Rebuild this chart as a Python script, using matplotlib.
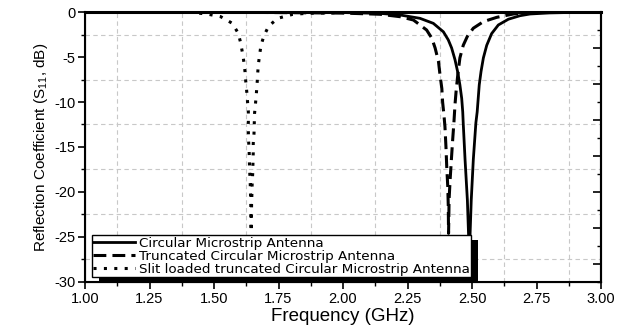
import matplotlib
matplotlib.use('Agg')
import matplotlib.pyplot as plt
from matplotlib.patches import Rectangle
from matplotlib.transforms import IdentityTransform
from matplotlib.ticker import MultipleLocator, FixedLocator

# Circular Microstrip Antenna (solid)
circ_freq = [1.00, 1.60, 2.00, 2.143, 2.221, 2.298, 2.350, 2.389, 2.408, 2.421,
             2.434, 2.444, 2.453, 2.460, 2.464, 2.466, 2.473, 2.482, 2.487, 2.490,
             2.492, 2.497, 2.505, 2.515, 2.520, 2.524, 2.528, 2.535, 2.544, 2.557,
             2.576, 2.602, 2.641, 2.686, 2.725, 2.80, 2.90, 3.00]
circ_s11 = [-0.01, -0.02, -0.06, -0.15, -0.33, -0.70, -1.26, -2.2, -3.1, -4.0,
            -5.3, -6.6, -8.1, -9.6, -11.1, -12.4, -16.4, -20.9, -25.1, -26.5,
            -25.1, -20.9, -16.4, -12.3, -11.1, -9.6, -8.1, -6.6, -5.1, -3.7,
            -2.4, -1.44, -0.80, -0.41, -0.22, -0.10, -0.04, -0.02]

# Truncated Circular Microstrip Antenna (dashed)
trunc_freq = [1.00, 1.60, 2.00, 2.143, 2.221, 2.273, 2.324, 2.344, 2.357, 2.370,
              2.376, 2.383, 2.386, 2.391, 2.395, 2.399, 2.402, 2.406, 2.408, 2.409,
              2.410, 2.411, 2.415, 2.420, 2.425, 2.430, 2.434, 2.438, 2.444, 2.453,
              2.466, 2.482, 2.505, 2.544, 2.596, 2.660, 2.712, 2.85, 3.00]
trunc_s11 = [-0.01, -0.03, -0.12, -0.25, -0.52, -0.89, -2.0, -2.9, -4.0, -5.5,
             -7.0, -8.5, -10.0, -11.4, -12.7, -15.0, -17.2, -19.4, -21.6, -24.6,
             -23.1, -20.9, -18.7, -16.4, -14.2, -12.2, -10.3, -8.9, -7.2, -5.1,
             -3.7, -2.7, -1.8, -1.07, -0.59, -0.22, -0.06, -0.02, -0.01]

# Slit loaded truncated Circular Microstrip Antenna (dotted)
slit_freq = [1.00, 1.30, 1.413, 1.472, 1.526, 1.571, 1.594, 1.603, 1.610, 1.616,
             1.620, 1.623, 1.627, 1.630, 1.633, 1.633, 1.633, 1.634, 1.636, 1.637,
             1.638, 1.640, 1.641, 1.642, 1.643, 1.643, 1.644, 1.645, 1.646, 1.647,
             1.648, 1.650, 1.651, 1.652, 1.652, 1.655, 1.656, 1.657, 1.661, 1.664,
             1.667, 1.669, 1.672, 1.677, 1.682, 1.694, 1.712, 1.747, 1.805, 1.859,
             2.00, 2.50, 3.00]
slit_s11 = [-0.01, -0.02, -0.05, -0.22, -0.52, -1.26, -2.37, -3.4, -4.5, -5.6,
            -6.6, -7.7, -8.9, -10.0, -11.0, -12.2, -13.2, -14.3, -15.3, -16.4,
            -17.6, -18.7, -19.8, -20.9, -22.0, -23.1, -24.4, -22.1, -21.0, -20.0,
            -18.9, -17.9, -16.7, -15.6, -14.6, -13.5, -12.4, -11.3, -10.1, -9.1,
            -8.0, -6.9, -5.8, -4.7, -3.7, -2.6, -1.56, -0.70, -0.26, -0.15,
            -0.06, -0.02, -0.01]

labels = ['Circular Microstrip Antenna',
          'Truncated Circular Microstrip Antenna',
          'Slit loaded truncated Circular Microstrip Antenna']
x_ticks = [1.00, 1.25, 1.50, 1.75, 2.00, 2.25, 2.50, 2.75, 3.00]
y_ticks = [0, -5, -10, -15, -20, -25, -30]


def plot():
    plt.rcParams['font.family'] = ['Liberation Sans', 'DejaVu Sans']
    plt.rcParams['mathtext.default'] = 'regular'

    fig = plt.figure(figsize=(6.17, 3.29), dpi=100)
    ax = fig.add_axes([0.1378, 0.1429, 0.8363, 0.8206])

    ax.plot(circ_freq, circ_s11, color='black', lw=2.0, label=labels[0])
    ax.plot(trunc_freq, trunc_s11, color='black', lw=2.2,
            linestyle=(0, (4.2, 2.0)), label=labels[1])
    ax.plot(slit_freq, slit_s11, color='black', lw=2.2,
            linestyle=(0, (1, 2.4)), label=labels[2])

    ax.set_xlim(1.0, 3.0)
    ax.set_ylim(-30, 0)
    ax.set_xticks(x_ticks)
    ax.set_xticklabels(['%.2f' % v for v in x_ticks])
    ax.set_yticks(y_ticks)
    ax.set_yticklabels([str(v) for v in y_ticks])
    ax.xaxis.set_minor_locator(FixedLocator([1.125 + 0.25 * i for i in range(8)]))
    ax.yaxis.set_minor_locator(FixedLocator([-2.5 - 5 * i for i in range(6)]))
    ax.grid(which='minor', color='#c8c8c8', linestyle=(0, (4, 3)), lw=0.8)
    ax.grid(which='major', visible=False)

    ax.tick_params(which='major', direction='out', length=5, width=1.2,
                   labelsize=10.5, pad=2, right=False, top=False)
    ax.tick_params(which='minor', direction='out', length=3, width=1.0,
                   right=False, top=False)
    for side in ['left', 'right', 'bottom']:
        ax.spines[side].set_linewidth(1.5)
    ax.spines['top'].set_linewidth(2.2)

    # right-hand ticks, pointing in
    ax2 = ax.twinx()
    ax2.set_ylim(-30, 0)
    ax2.yaxis.set_major_locator(MultipleLocator(4))
    ax2.yaxis.set_minor_locator(MultipleLocator(2))
    ax2.tick_params(which='major', direction='in', length=6, width=1.2, labelright=False)
    ax2.tick_params(which='minor', direction='in', length=3, width=1.0)
    ax2.spines['right'].set_linewidth(1.5)

    ax.set_xlabel('Frequency (GHz)', fontsize=13.5, labelpad=2)
    ax.set_ylabel('Reflection Coefficient (S$_{11}$, dB)', fontsize=11, labelpad=3)

    leg = ax.legend(loc='lower left', bbox_to_anchor=(0.0136, 0.0185),
                    borderaxespad=0, frameon=True, fancybox=False,
                    prop={'family': 'DejaVu Sans', 'size': 9.7},
                    handlelength=3.1, handletextpad=0.25, labelspacing=0.0,
                    borderpad=0.1)
    leg.get_frame().set_edgecolor('black')
    leg.get_frame().set_linewidth(1.0)
    leg.get_frame().set_alpha(1)
    leg.set_zorder(6)

    # black drop shadow behind the legend
    fig.canvas.draw()
    bb = leg.get_window_extent()
    shadow = Rectangle((bb.x0 + 7, bb.y0 - 5), bb.width, bb.height,
                       transform=IdentityTransform(), facecolor='black',
                       edgecolor='none', zorder=5.5)
    ax.add_patch(shadow)

    fig.savefig('out.png', dpi=100)


def main():
    plot()


main()
